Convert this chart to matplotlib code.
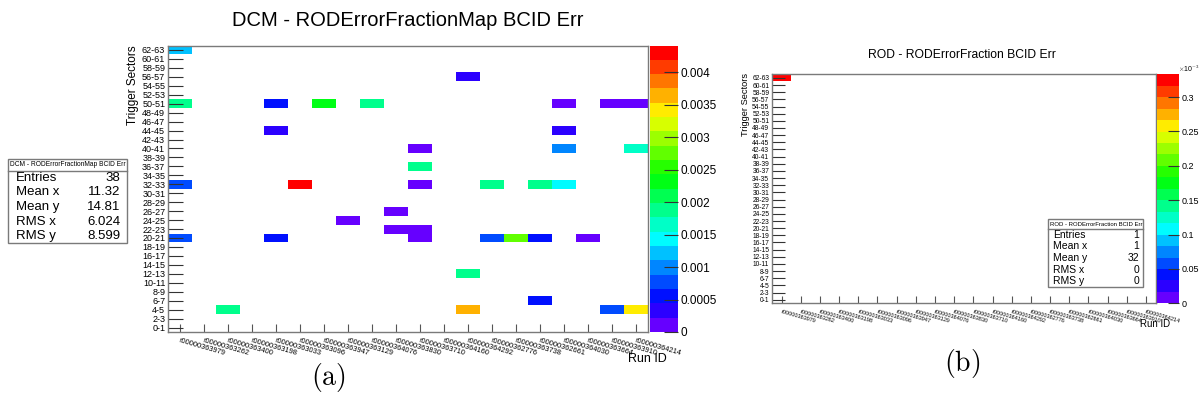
import numpy as np
import matplotlib
matplotlib.use("Agg")
import matplotlib.pyplot as plt
from matplotlib.colors import ListedColormap, BoundaryNorm, hsv_to_rgb
from matplotlib.patches import Rectangle

plt.rcParams["font.family"] = ["Liberation Sans", "DejaVu Sans"]
plt.rcParams["mathtext.fontset"] = "cm"

W, H = 1200, 416

runs = ["r00000363979", "r00000363262", "r00000363400", "r00000363198",
        "r00000363033", "r00000363096", "r00000363947", "r00000363129",
        "r00000364076", "r00000363830", "r00000363710", "r00000364160",
        "r00000364292", "r00000362776", "r00000363738", "r00000362661",
        "r00000364030", "r00000363664", "r00000363910", "r00000364214"]
sectors = ["%d-%d" % (2 * i, 2 * i + 1) for i in range(32)]

# DCM map: (run index, sector index, error fraction)
dcm_run_idx = [0, 0, 0, 0, 2, 4, 4, 4, 5, 6, 7, 8, 9, 9, 10, 10, 10, 10, 10,
               12, 12, 12, 13, 13, 14, 15, 15, 15, 16, 16, 16, 16, 17, 18, 18,
               19, 19, 19]
dcm_sector_idx = [31, 25, 16, 10, 2, 25, 22, 10, 16, 25, 12, 25, 13, 11, 20, 18,
                  16, 11, 10, 28, 6, 2, 16, 10, 10, 16, 10, 3, 25, 22, 20, 16,
                  10, 25, 2, 25, 20, 2]
dcm_frac = [0.00121, 0.00187, 0.00077, 0.00077, 0.00187, 0.00055, 0.00033,
            0.00055, 0.00441, 0.00232, 0.00011, 0.00187, 0.00011, 0.00011,
            0.00011, 0.00187, 0.00011, 0.00011, 0.00011, 0.00033, 0.00187,
            0.00364, 0.00187, 0.00077, 0.00276, 0.00187, 0.00055, 0.00055,
            0.00011, 0.00033, 0.00099, 0.00143, 0.00011, 0.00011, 0.00077,
            0.00011, 0.00165, 0.00342]
dcm_stats = [("Entries", "38"), ("Mean x", "11.32"), ("Mean y", "14.81"),
             ("RMS x", "6.024"), ("RMS y", "8.599")]

# ROD map
rod_run_idx = [0]
rod_sector_idx = [31]
rod_frac = [0.000333]
rod_stats = [("Entries", "1"), ("Mean x", "1"), ("Mean y", "32"),
             ("RMS x", "0"), ("RMS y", "0")]

# ROOT-like violet->red palette with 20 contours
hues = (264.0 / 360.0) * (1 - np.arange(20) / 19.0)
cmap = ListedColormap(hsv_to_rgb(np.column_stack([hues, np.ones(20), np.ones(20)])))
cmap.set_bad((0, 0, 0, 0))

FRAME = "#7a7a7a"


def rect(x0, y0, x1, y1):
    return [x0 / W, 1 - y1 / H, (x1 - x0) / W, (y1 - y0) / H]


def fx(x):
    return x / W


def fy(y):
    return 1 - y / H


def draw_map(fig, box, cbox, ri, si, vals, scale, cticks, ctlabels, fs):
    ax = fig.add_axes(rect(*box))
    grid = np.full((len(sectors), len(runs)), np.nan)
    for r, s, v in zip(ri, si, vals):
        grid[s, r] = v
    vmax = max(vals) * 1.0001
    norm = BoundaryNorm(np.linspace(0, vmax, 21), cmap.N)
    xe = np.arange(len(runs) + 1) - 0.5
    ye = np.arange(len(sectors) + 1) - 0.5
    m = ax.pcolormesh(xe, ye, np.ma.masked_invalid(grid), cmap=cmap, norm=norm)
    ax.set_xlim(-0.5, len(runs) - 0.5)
    ax.set_ylim(-0.5, len(sectors) - 0.5)
    ax.set_yticks(range(len(sectors)))
    ax.set_yticklabels(sectors, fontsize=fs["ytick"])
    ax.set_xticks(range(len(runs)))
    ax.set_xticklabels(runs, fontsize=fs["xtick"], rotation=-16, ha="left",
                       va="top", rotation_mode="anchor")
    ax.tick_params(axis="y", direction="in", length=fs["ylen"], width=0.8,
                   color="#333333", pad=2)
    ax.tick_params(axis="x", direction="in", length=fs["xlen"], width=0.8,
                   color="#555555", pad=4)
    for sp in ax.spines.values():
        sp.set_color(FRAME)
        sp.set_linewidth(1)

    cax = fig.add_axes(rect(*cbox))
    cb = fig.colorbar(m, cax=cax)
    cb.outline.set_visible(False)
    cb.set_ticks([t * scale for t in cticks])
    cb.set_ticklabels(ctlabels)
    cax.tick_params(direction="in", length=fs["clen"], width=0.8,
                    color="#333333", labelsize=fs["ctick"], pad=2)
    cax.minorticks_off()
    return ax


def stat_box(fig, x0, y0, x1, y1, ysep, title, rows, tfs, rfs, inset):
    fig.patches.append(Rectangle((fx(x0), fy(y1)), fx(x1 - x0), (y1 - y0) / H,
                                 transform=fig.transFigure, facecolor="white",
                                 edgecolor=FRAME, linewidth=1))
    fig.lines.append(plt.Line2D([fx(x0), fx(x1)], [fy(ysep), fy(ysep)],
                                transform=fig.transFigure, color=FRAME, lw=1))
    fig.text(fx(x0 + 2), fy((y0 + ysep) / 2), title, fontsize=tfs,
             va="center", ha="left")
    step = (y1 - ysep) / len(rows)
    for i, (k, v) in enumerate(rows):
        yc = ysep + step * (i + 0.5)
        fig.text(fx(x0 + inset), fy(yc), k, fontsize=rfs, va="center", ha="left")
        fig.text(fx(x1 - inset + 1), fy(yc), v, fontsize=rfs, va="center",
                 ha="right")


fig = plt.figure(figsize=(W / 100, H / 100), dpi=100)

# (a) DCM panel
draw_map(fig, (168, 45.5, 647.5, 332), (650, 45.5, 678, 332),
         dcm_run_idx, dcm_sector_idx, dcm_frac, 1e-3,
         [0, 0.5, 1, 1.5, 2, 2.5, 3, 3.5, 4],
         ["0", "0.0005", "0.001", "0.0015", "0.002", "0.0025", "0.003",
          "0.0035", "0.004"],
         {"ytick": 6.5, "xtick": 5.3, "ylen": 11, "xlen": 6, "clen": 10,
          "ctick": 8.5})
fig.text(fx(408), fy(20), "DCM - RODErrorFractionMap BCID Err", fontsize=14.5,
         ha="center", va="center")
fig.text(fx(133), fy(45), "Trigger Sectors", fontsize=8.5, rotation=90,
         ha="center", va="top")
fig.text(fx(667), fy(359), "Run ID", fontsize=9, ha="right", va="center")
stat_box(fig, 8, 159.3, 127, 243.3, 170.7,
         "DCM - RODErrorFractionMap BCID Err", dcm_stats, 4.8, 9.5, 8)
fig.text(fx(328), fy(377), r"$\mathrm{(a)}$", fontsize=20, ha="center",
         va="center")

# (b) ROD panel
draw_map(fig, (772, 74.3, 1155.5, 303.3), (1157, 74.3, 1179, 303.3),
         rod_run_idx, rod_sector_idx, rod_frac, 1e-3,
         [0, 0.05, 0.1, 0.15, 0.2, 0.25, 0.3],
         ["0", "0.05", "0.1", "0.15", "0.2", "0.25", "0.3"],
         {"ytick": 4.8, "xtick": 4.0, "ylen": 9, "xlen": 5, "clen": 8,
          "ctick": 6.5})
fig.text(fx(962), fy(55), "ROD - RODErrorFraction BCID Err", fontsize=8.7,
         ha="center", va="center")
fig.text(fx(745), fy(73), "Trigger Sectors", fontsize=6.7, rotation=90,
         ha="center", va="top")
fig.text(fx(1170), fy(324), "Run ID", fontsize=7, ha="right", va="center")
fig.text(fx(1178), fy(69), r"$\times$10$^{-3}$", fontsize=5, ha="left",
         va="center")
stat_box(fig, 1047.7, 219, 1143.3, 287.3, 229,
         "ROD - RODErrorFraction BCID Err", rod_stats, 4.3, 7.5, 5)
fig.text(fx(962), fy(364), r"$\mathrm{(b)}$", fontsize=20, ha="center",
         va="center")

fig.savefig("out.png", dpi=100)
